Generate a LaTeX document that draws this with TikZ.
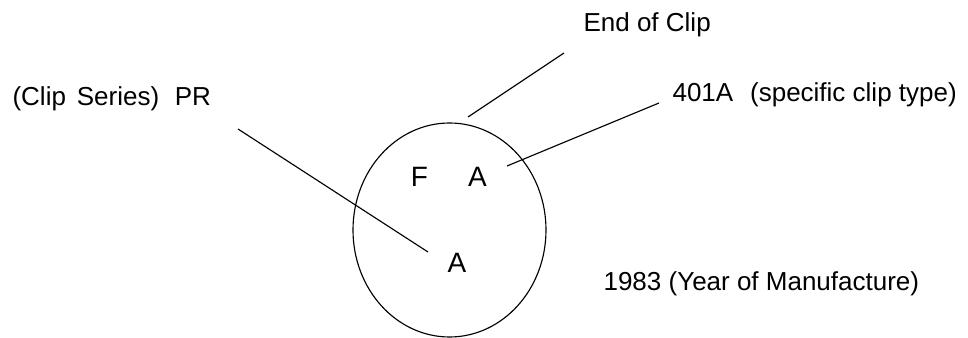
\documentclass[tikz,border=0pt]{standalone}
\usepackage{fontspec}
\setmainfont{Liberation Sans}
\usepackage{tikz}
\usetikzlibrary{positioning}

\begin{document}
\begin{tikzpicture}[x=0.75pt,y=-0.75pt,line width=0.85pt,
    every node/.style={font=\fontsize{19.5}{23}\selectfont,inner sep=0pt},
    letter/.style={font=\fontsize{21}{25}\selectfont},
    label/.style={anchor=base west}]
  \useasboundingbox (0,0) rectangle (968,338);
  \draw (449.5,230) ellipse [x radius=96.5, y radius=107];
  \node[letter] (letF) at (419.5,177) {F};
  \node[letter] (letA) at (477.5,177) {A};
  \node[letter] (letAb) at (457,263) {A};
  \node[label] (endclip) at (583,32) {End of Clip};
  \node[label] (series) at (12,106) {(Clip\hspace{0.42em}Series)\hspace{0.6em}PR};
  \node[label] (cliptype) at (672,102) {401A\hspace{0.65em}(specific clip type)};
  \node[label] (year) at (603,291) {1983 (Year of Manufacture)};
  \coordinate (endclipa) at (564,53);
  \coordinate (endclipb) at (468,117);
  \coordinate (cliptypea) at (659,103);
  \coordinate (cliptypeb) at (507,166);
  \coordinate (seriesa) at (238,129);
  \coordinate (seriesb) at (428,252);
  \draw (endclipa) -- (endclipb);
  \draw (cliptypea) -- (cliptypeb);
  \draw (seriesa) -- (seriesb);
\end{tikzpicture}
\end{document}
